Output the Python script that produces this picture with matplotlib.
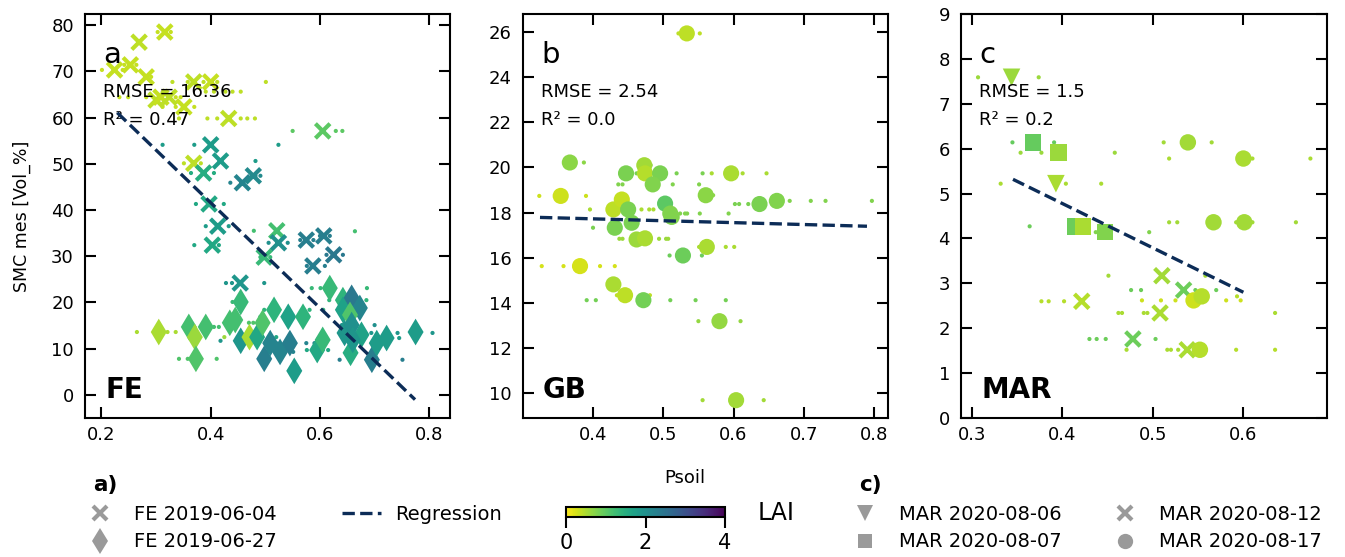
import numpy as np
import matplotlib
matplotlib.use('Agg')
import matplotlib.pyplot as plt
from matplotlib.lines import Line2D
from matplotlib import colors, cm

# ---------------- DATA ----------------
# Panel a (FE): crosses = 2019-06-04, diamonds = 2019-06-27
fe_x_psoil = [0.224, 0.253, 0.269, 0.316, 0.282, 0.300, 0.309, 0.324, 0.351, 0.369, 0.400,
              0.433, 0.605, 0.400, 0.418, 0.369, 0.387, 0.458, 0.478, 0.397, 0.413, 0.403,
              0.521, 0.524, 0.498, 0.575, 0.607, 0.587, 0.625, 0.454]
fe_x_smc = [70.3, 71.4, 76.3, 78.5, 68.8, 63.8, 64.4, 64.4, 62.3, 67.7, 67.7,
            59.8, 57.1, 54.1, 50.6, 50.1, 48.0, 45.9, 47.4, 41.3, 36.5, 32.4,
            35.5, 32.9, 29.8, 33.5, 34.4, 27.9, 30.3, 24.2]
fe_x_lai = [0.35, 0.35, 0.4, 0.35, 0.35, 0.4, 0.35, 0.4, 0.35, 0.4, 0.35,
            0.4, 1.0, 1.8, 1.8, 0.4, 1.5, 2.2, 2.1, 1.6, 1.8, 1.6,
            1.2, 2.0, 1.3, 2.3, 2.3, 2.3, 2.4, 1.9]

fe_d_psoil = [0.305, 0.360, 0.371, 0.391, 0.373, 0.435, 0.445, 0.455, 0.455, 0.471, 0.485,
              0.495, 0.498, 0.509, 0.516, 0.527, 0.542, 0.545, 0.553, 0.569, 0.595, 0.605,
              0.618, 0.642, 0.642, 0.658, 0.673, 0.655, 0.645, 0.656, 0.676, 0.695, 0.704,
              0.722, 0.775, 0.658, 0.660]
fe_d_smc = [13.6, 14.7, 12.5, 14.7, 7.8, 15.6, 16.2, 20.1, 11.7, 12.5, 12.5,
            15.6, 7.8, 11.2, 18.4, 9.3, 16.9, 11.2, 5.2, 16.9, 9.7, 11.9,
            23.1, 20.5, 18.4, 21.0, 18.8, 17.3, 13.4, 9.1, 13.0, 7.6, 11.2,
            12.3, 13.6, 15.1, 11.9]
fe_d_lai = [0.5, 1.2, 0.6, 1.2, 1.1, 1.2, 1.2, 1.3, 1.9, 0.5, 1.6,
            1.1, 2.3, 2.2, 1.4, 2.2, 1.7, 2.3, 1.8, 1.4, 1.6, 1.3,
            1.3, 1.4, 1.7, 2.4, 2.2, 1.1, 1.9, 1.5, 1.7, 2.3, 1.8,
            1.8, 1.8, 2.0, 1.9]

# pixel-level Psoil values (small dots), grouped by rows of equal SMC
fe_dot_smc = [70.3, 71.4, 78.5, 68.8, 64.4, 62.3, 67.7, 65.6, 59.8, 57.1, 54.1, 50.1, 50.6,
              48.0, 45.9, 47.4, 41.3, 36.5, 32.4, 35.5, 32.9, 29.8, 33.5, 34.4, 35.4, 27.9,
              30.3, 24.2, 13.6, 14.7, 7.8, 12.5, 11.7, 16.9, 15.6, 18.4, 23.1, 20.5, 13.4,
              12.3, 9.7, 7.6, 11.2, 9.3, 15.1, 20.1, 12.5]
fe_dot_lai = [0.35, 0.35, 0.35, 0.35, 0.35, 0.35, 0.4, 0.4, 0.4, 1.0, 1.8, 0.4, 1.8,
              1.5, 2.2, 2.1, 1.6, 1.8, 1.6, 1.2, 2.0, 1.3, 2.3, 2.3, 1.2, 2.3,
              2.4, 1.9, 0.5, 1.2, 1.1, 0.6, 1.9, 1.7, 1.1, 1.4, 1.3, 1.4, 1.9,
              1.8, 1.6, 2.3, 2.2, 2.2, 2.0, 1.3, 1.6]
fe_dot_psoil = [[0.201, 0.239], [0.242, 0.264], [0.303, 0.327], [0.291],
                [0.233, 0.249, 0.282, 0.336, 0.345], [0.312, 0.336, 0.370],
                [0.330, 0.358, 0.387, 0.412, 0.501], [0.391, 0.406, 0.427, 0.440, 0.455],
                [0.342, 0.394, 0.412, 0.455, 0.467, 0.481], [0.550, 0.629, 0.641],
                [0.312, 0.370, 0.524], [0.351, 0.382], [0.482], [0.364, 0.406], [0.436],
                [0.482, 0.491], [0.373, 0.424], [0.391, 0.433], [0.370, 0.415], [0.479],
                [0.506, 0.541], [0.491, 0.509], [0.564, 0.588], [0.600, 0.618], [0.664],
                [0.576, 0.609], [0.612, 0.642], [0.428, 0.439, 0.498],
                [0.265, 0.321, 0.336], [0.406, 0.415], [0.342, 0.358, 0.411], [0.425],
                [0.418, 0.476], [0.491, 0.515, 0.564], [0.470, 0.478], [0.498, 0.581, 0.606],
                [0.585, 0.601, 0.686], [0.617, 0.685], [0.636, 0.694, 0.742, 0.806], [0.745],
                [0.576, 0.615], [0.636, 0.751], [0.520, 0.575, 0.590], [0.504, 0.551],
                [0.640, 0.700], [0.440], [0.468, 0.520]]

# Panel b (GB): circles
gb_psoil = [0.5335, 0.367, 0.354, 0.447, 0.473, 0.474, 0.4955, 0.485, 0.5966, 0.5605,
            0.637, 0.6617, 0.5026, 0.429, 0.441, 0.450, 0.510, 0.512, 0.431, 0.455,
            0.462, 0.474, 0.528, 0.562, 0.3815, 0.429, 0.4456, 0.4717, 0.580, 0.6037]
gb_smc = [25.94, 20.22, 18.74, 19.74, 20.10, 19.74, 19.74, 19.25, 19.74, 18.77,
          18.38, 18.52, 18.40, 18.14, 18.58, 18.14, 17.96, 17.81, 17.33, 17.55,
          16.81, 16.86, 16.10, 16.48, 15.63, 14.82, 14.34, 14.12, 13.19, 9.69]
gb_lai = [0.4, 0.7, 0.3, 0.8, 0.55, 0.45, 0.8, 0.75, 0.5, 0.7,
          0.8, 0.75, 1.0, 0.4, 0.35, 0.8, 0.75, 0.75, 0.8, 0.8,
          0.6, 0.5, 0.9, 0.5, 0.25, 0.5, 0.4, 0.85, 0.65, 0.55]
gb_dot_smc = [25.94, 20.22, 18.74, 20.10, 19.74, 19.74, 19.74, 19.25, 18.77, 18.38, 18.52,
              18.14, 17.96, 17.33, 16.84, 16.10, 16.48, 15.63, 14.82, 14.34, 14.12, 13.19, 9.69]
gb_dot_lai = [0.4, 0.7, 0.3, 0.8, 0.8, 0.8, 0.5, 0.75, 0.7, 0.8, 0.75,
              0.5, 0.75, 0.8, 0.6, 0.9, 0.5, 0.25, 0.5, 0.4, 0.85, 0.65, 0.55]
gb_dot_psoil = [[0.5216, 0.552], [0.387], [0.3235, 0.390], [0.482], [0.455, 0.462], [0.519, 0.556],
                [0.569, 0.613, 0.647], [0.436, 0.442, 0.5135, 0.551], [0.571],
                [0.602, 0.608, 0.621], [0.680, 0.710, 0.731, 0.797],
                [0.3957, 0.469, 0.480, 0.486], [0.524, 0.531, 0.534, 0.552, 0.593],
                [0.400], [0.4375, 0.442, 0.494, 0.504, 0.507], [0.509, 0.555],
                [0.551, 0.589, 0.601], [0.327, 0.358, 0.410, 0.431], [0.4266],
                [0.434, 0.481], [0.391, 0.404, 0.510, 0.546, 0.589], [0.550, 0.610],
                [0.556, 0.643]]

# Panel c (MAR)
mar_tri_psoil = [0.344, 0.393]
mar_tri_smc = [7.59, 5.22]
mar_tri_lai = [0.6, 0.5]
mar_sq_psoil = [0.368, 0.396, 0.414, 0.423, 0.447]
mar_sq_smc = [6.14, 5.91, 4.27, 4.27, 4.14]
mar_sq_lai = [0.95, 0.6, 0.9, 0.5, 0.75]
mar_x_psoil = [0.4215, 0.478, 0.510, 0.508, 0.534, 0.538]
mar_x_smc = [2.60, 1.76, 3.17, 2.34, 2.85, 1.52]
mar_x_lai = [0.45, 0.9, 0.55, 0.5, 0.9, 0.5]
mar_o_psoil = [0.5387, 0.600, 0.567, 0.601, 0.545, 0.554, 0.552]
mar_o_smc = [6.14, 5.78, 4.36, 4.36, 2.62, 2.71, 1.52]
mar_o_lai = [0.55, 0.5, 0.55, 0.55, 0.3, 0.45, 0.45]
mar_dot_smc = [7.59, 5.22, 6.14, 5.91, 4.27, 4.14, 2.60, 1.76, 3.17, 2.34, 2.85, 1.52,
               6.14, 5.78, 4.36, 4.36, 2.62, 2.71, 1.52]
mar_dot_lai = [0.6, 0.5, 0.95, 0.6, 0.9, 0.75, 0.45, 0.9, 0.55, 0.5, 0.9, 0.5,
               0.55, 0.5, 0.55, 0.55, 0.3, 0.45, 0.45]
mar_dot_psoil = [[0.307, 0.374], [0.332, 0.404, 0.443], [0.345, 0.391], [0.354, 0.377, 0.458],
                 [0.364], [0.437, 0.496], [0.377, 0.385, 0.402], [0.430, 0.438, 0.448, 0.503],
                 [0.451, 0.558], [0.462, 0.466, 0.490, 0.494, 0.635], [0.476, 0.487, 0.547, 0.570],
                 [0.471, 0.516, 0.520, 0.528], [0.512, 0.565], [0.518, 0.610, 0.674],
                 [0.518, 0.527], [0.592, 0.610, 0.658], [0.488, 0.509, 0.525, 0.581, 0.597],
                 [0.593], [0.592, 0.635]]

# Regression lines (slope, intercept, x-range) per panel
reg_slope = [-113.9, -0.84, -9.89]
reg_intercept = [87.14, 18.06, 8.735]
reg_xrange = [(0.229, 0.774), (0.3245, 0.790), (0.3456, 0.600)]
panel_letters = ['a', 'b', 'c']
panel_sites = ['FE', 'GB', 'MAR']
rmse_vals = ['16.36', '2.54', '1.5']
r2_vals = ['0.47', '0.0', '0.2']

# ---------------- STYLE ----------------
W, H = 1345, 557
fig = plt.figure(figsize=(13.45, 5.57), dpi=100)
cmap = plt.get_cmap('viridis_r')
norm = colors.Normalize(0, 4)
reg_color = '#0c2c57'
grey = '#9a9a9a'


def rect(l, r, t=14, b=418):
    return [l / W, 1 - b / H, (r - l) / W, (b - t) / H]


axa = fig.add_axes(rect(85, 450))
axb = fig.add_axes(rect(522.7, 887.7))
axc = fig.add_axes(rect(961, 1326.7))
axes = [axa, axb, axc]


def dots(ax, xs_rows, ys, lai):
    xx, yy, cc = [], [], []
    for row, y, l in zip(xs_rows, ys, lai):
        for x in row:
            xx.append(x); yy.append(y); cc.append(l)
    ax.scatter(xx, yy, c=cc, cmap=cmap, norm=norm, s=9, linewidths=0, zorder=2)


dot_kw = dict(cmap=cmap, norm=norm, zorder=3)

# Panel a
dots(axa, fe_dot_psoil, fe_dot_smc, fe_dot_lai)
axa.scatter(fe_d_psoil, fe_d_smc, c=fe_d_lai, marker='d', s=185, linewidths=0, **dot_kw)
axa.scatter(fe_x_psoil, fe_x_smc, c=fe_x_lai, marker='x', s=110, linewidths=3.0, **dot_kw)

# Panel b
dots(axb, gb_dot_psoil, gb_dot_smc, gb_dot_lai)
axb.scatter(gb_psoil, gb_smc, c=gb_lai, marker='o', s=135, linewidths=0, **dot_kw)

# Panel c
dots(axc, mar_dot_psoil, mar_dot_smc, mar_dot_lai)
axc.scatter(mar_tri_psoil, mar_tri_smc, c=mar_tri_lai, marker='v', s=160, linewidths=0, **dot_kw)
axc.scatter(mar_sq_psoil, mar_sq_smc, c=mar_sq_lai, marker='s', s=140, linewidths=0, **dot_kw)
axc.scatter(mar_x_psoil, mar_x_smc, c=mar_x_lai, marker='x', s=110, linewidths=3.0, **dot_kw)
axc.scatter(mar_o_psoil, mar_o_smc, c=mar_o_lai, marker='o', s=140, linewidths=0, **dot_kw)

# Regression lines
for ax, m, q, (x0, x1) in zip(axes, reg_slope, reg_intercept, reg_xrange):
    xr = np.array([x0, x1])
    ax.plot(xr, m * xr + q, ls='--', color=reg_color, lw=2.4, zorder=4)

# Axes limits and ticks
axa.set_xlim(0.170, 0.838); axa.set_ylim(-5.0, 82.4)
axa.set_xticks([0.2, 0.4, 0.6, 0.8]); axa.set_yticks(np.arange(0, 81, 10))
axb.set_xlim(0.2999, 0.8195); axb.set_ylim(8.9, 26.8)
axb.set_xticks([0.4, 0.5, 0.6, 0.7, 0.8]); axb.set_yticks(np.arange(10, 27, 2))
axc.set_xlim(0.2882, 0.692); axc.set_ylim(0, 9)
axc.set_xticks([0.3, 0.4, 0.5, 0.6]); axc.set_yticks(np.arange(0, 10, 1))

for ax, letter, site, rm, r2 in zip(axes, panel_letters, panel_sites, rmse_vals, r2_vals):
    ax.tick_params(direction='in', top=True, right=True, length=8, width=1.5,
                   labelsize=13, colors='black')
    ax.tick_params(axis='x', pad=6)
    ax.tick_params(axis='y', pad=8)
    for s in ax.spines.values():
        s.set_linewidth(1.5)
    ax.text(0.05, 0.879, letter, transform=ax.transAxes, fontsize=21, va='baseline')
    ax.text(0.05, 0.795, 'RMSE = ' + rm, transform=ax.transAxes, fontsize=13, va='baseline')
    ax.text(0.05, 0.725, 'R² = ' + r2, transform=ax.transAxes, fontsize=13, va='baseline')
    ax.text(0.055, 0.05, site, transform=ax.transAxes, fontsize=20, fontweight='bold',
            va='baseline')

fig.text(22 / W, 1 - 216 / H, 'SMC mes [Vol_%]', rotation=90, fontsize=12.5,
         ha='center', va='center')
fig.text(685 / W, 1 - 478 / H, 'Psoil', fontsize=13, ha='center', va='center')

# Legends
fig.text(93 / W, 1 - 484.5 / H, 'a)', fontsize=15.5, fontweight='bold', va='center')
fig.text(859 / W, 1 - 484.5 / H, 'c)', fontsize=15.5, fontweight='bold', va='center')

h_a = [Line2D([], [], marker='x', ls='none', color=grey, markersize=10, mew=3, label='FE 2019-06-04'),
       Line2D([], [], marker='d', ls='none', color=grey, markersize=13, mew=0, label='FE 2019-06-27'),
       Line2D([], [], ls='--', color=reg_color, lw=2.4, label='Regression')]
fig.legend(handles=h_a, ncol=2, loc='center left', bbox_to_anchor=(80.5 / W, 1 - 528 / H),
           frameon=False, fontsize=14, handlelength=2.0, handletextpad=0.75,
           columnspacing=3.35, labelspacing=0.45, borderpad=0, borderaxespad=0)

h_c = [Line2D([], [], marker='v', ls='none', color=grey, markersize=11, mew=0, label='MAR 2020-08-06'),
       Line2D([], [], marker='s', ls='none', color=grey, markersize=10, mew=0, label='MAR 2020-08-07'),
       Line2D([], [], marker='x', ls='none', color=grey, markersize=10, mew=3, label='MAR 2020-08-12'),
       Line2D([], [], marker='o', ls='none', color=grey, markersize=11, mew=0, label='MAR 2020-08-17')]
fig.legend(handles=h_c, ncol=2, loc='center left', bbox_to_anchor=(845.5 / W, 1 - 528 / H),
           frameon=False, fontsize=14, handlelength=2.0, handletextpad=0.75,
           columnspacing=2.24, labelspacing=0.45, borderpad=0, borderaxespad=0)

# Colorbar
cax = fig.add_axes([566 / W, 1 - 517 / H, 159 / W, 10 / H])
sm = cm.ScalarMappable(norm=norm, cmap=cmap)
cb = fig.colorbar(sm, cax=cax, orientation='horizontal', ticks=[0, 2, 4])
cb.ax.tick_params(labelsize=15, length=8, width=1.5)
cb.outline.set_linewidth(1.5)
fig.text(758 / W, 1 - 513 / H, 'LAI', fontsize=17, va='center')

fig.savefig('out.png', dpi=100)
